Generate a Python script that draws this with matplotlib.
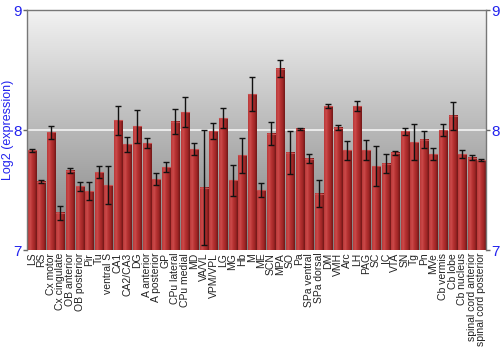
import matplotlib

matplotlib.use("Agg")
import matplotlib.pyplot as plt
import numpy as np
from matplotlib.colors import LinearSegmentedColormap

plt.rcParams["font.family"] = ["Liberation Sans", "DejaVu Sans"]

regions = [
    "LS", "RS", "Cx motor", "Cx cingulate", "OB anterior", "OB posterior",
    "Pir", "Tu", "ventral S", "CA1", "CA2/CA3", "DG", "A anterior",
    "A posterior", "GP", "CPu lateral", "CPu medial", "MD", "VA/VL",
    "VPM/VPL", "LG", "MG", "Hb", "M", "ME", "SCN", "MPA", "SO", "Pa",
    "SPa ventral", "SPa dorsal", "DM", "VMH", "Arc", "LH", "PAG", "SC", "IC",
    "VTA", "SN", "Tg", "Pn", "MVe", "Cb vermis", "Cb lobe", "Cb nucleus",
    "spinal cord anterior", "spinal cord posterior",
]
expression = [
    7.83, 7.57, 7.98, 7.31, 7.66, 7.53, 7.49, 7.65, 7.54, 8.08, 7.88, 8.03,
    7.89, 7.59, 7.69, 8.07, 8.15, 7.84, 7.52, 7.99, 8.10, 7.58, 7.79, 8.30,
    7.50, 7.97, 8.51, 7.81, 8.01, 7.76, 7.47, 8.20, 8.02, 7.83, 8.20, 7.83,
    7.70, 7.72, 7.81, 7.99, 7.90, 7.92, 7.80, 8.00, 8.12, 7.80, 7.77, 7.75,
]
error = [
    0.010, 0.010, 0.057, 0.057, 0.020, 0.040, 0.076, 0.053, 0.160, 0.118,
    0.062, 0.136, 0.040, 0.050, 0.040, 0.105, 0.125, 0.050, 0.480, 0.067,
    0.083, 0.130, 0.145, 0.140, 0.062, 0.094, 0.072, 0.180, 0.010, 0.037,
    0.110, 0.015, 0.024, 0.078, 0.040, 0.083, 0.170, 0.080, 0.018, 0.028,
    0.150, 0.074, 0.049, 0.047, 0.117, 0.032, 0.022, 0.011,
]
y_ticks = [7, 8, 9]

BLUE = "#2222ee"
YMIN, YMAX = 7, 9

fig = plt.figure(figsize=(5, 3.5), dpi=100)
ax = fig.add_axes([0.054, 0.2857, 0.918, 0.6857])

n = len(regions)
x = np.arange(n)
ax.set_xlim(-0.5, n - 0.5)
ax.set_ylim(YMIN, YMAX)

# grey vertical background gradient, light at the top
bg = np.linspace(0, 1, 256).reshape(-1, 1)
bg_cmap = LinearSegmentedColormap.from_list("bg", ["#f2f2f2", "#b8b8b8", "#808080"])
ax.imshow(bg, cmap=bg_cmap, extent=[-0.5, n - 0.5, YMIN, YMAX], aspect="auto",
          zorder=0, origin="upper")
ax.axhline(8, color="#f4f4f4", lw=1.2, zorder=1)

# bars with a horizontal shading (light left, dark right edge)
bar_cmap = LinearSegmentedColormap.from_list(
    "bar", ["#b83838", "#cc4a4a", "#b63232", "#a02626", "#701818"])
grad = np.linspace(0, 1, 64).reshape(1, -1)
half = 0.42
for xi, val in zip(x, expression):
    ax.imshow(grad, cmap=bar_cmap, extent=[xi - half, xi + half, YMIN, val],
              aspect="auto", zorder=2)
    ax.plot([xi - half, xi + half], [val, val], color="#c85050", lw=0.8, zorder=2.5)

ax.errorbar(x, expression, yerr=error, fmt="none", ecolor="#111111",
            elinewidth=1.0, capsize=2.0, capthick=1.0, zorder=3)

ax.set_xticks(x)
ax.set_xticklabels(regions, rotation=90, fontsize=7.5, color="#222222")
ax.tick_params(axis="x", length=0, pad=2)

ax.set_yticks(y_ticks)
ax.set_yticklabels([str(t) for t in y_ticks], color=BLUE, fontsize=11)
ax.tick_params(axis="y", length=3, width=1, color="#666666", pad=1,
               left=True, right=True, labelleft=True, labelright=True)
fig.text(0.003, 0.6286, "Log2 (expression)", color=BLUE, fontsize=9,
         rotation=90, ha="left", va="center")

for side, spine in ax.spines.items():
    spine.set_color("#777777")
    spine.set_linewidth(1.0)
ax.spines["bottom"].set_visible(False)

fig.savefig("out.png", dpi=100)
